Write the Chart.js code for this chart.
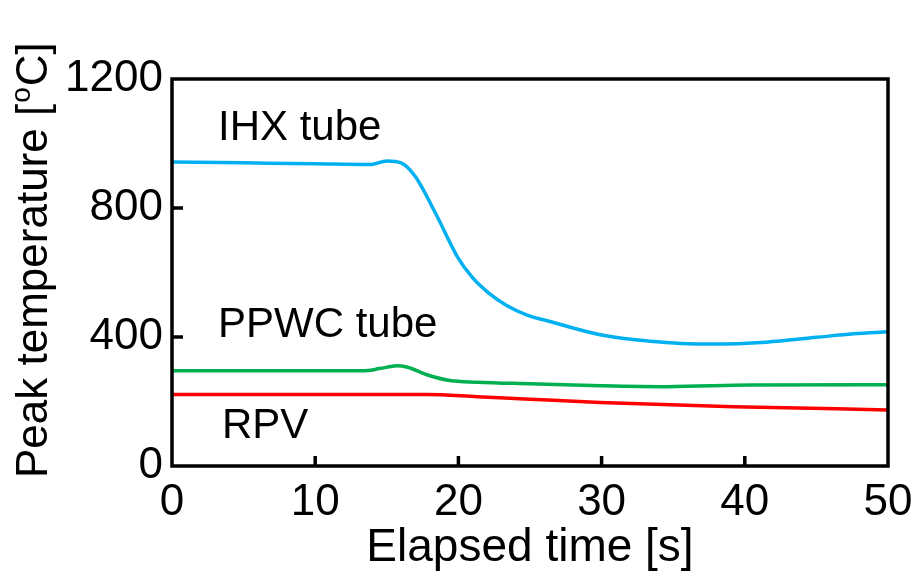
<!DOCTYPE html>
<html>
<head>
<meta charset="utf-8">
<script src="https://cdn.jsdelivr.net/npm/chart.js@4.4.0/dist/chart.umd.min.js"></script>
<style>
  html, body { margin: 0; padding: 0; background: #fff; }
  #wrap { width: 923px; height: 579px; position: relative; }
</style>
</head>
<body>
<div id="wrap"><canvas id="peakChart"></canvas></div>
<script>
// 数据
const ihxTime = [0, 5, 10, 13.9, 15.0, 16.0, 17.0, 18.5, 19.9, 21.0, 22.1, 23.4, 24.8, 26.4, 29.9, 33.4, 37.6, 41.5, 45.0, 47.6, 50];
const ihxTemp = [943, 940, 937, 935, 946, 940, 897, 775, 651, 583, 537, 497, 468, 448, 407, 387, 378, 384, 399, 410, 416];

const ppwcTime = [0, 13.3, 14.5, 15.7, 16.4, 17.8, 19.4, 21.3, 25, 29.9, 34.6, 40.4, 50];
const ppwcTemp = [295, 295, 302, 311, 307, 283, 265, 260, 255, 249, 246, 251, 252];

const rpvTime = [0, 10, 17.8, 21.3, 25, 29.9, 39.2, 50];
const rpvTemp = [222, 222, 222, 215, 207, 197, 184, 174];

const xTicks = [0, 10, 20, 30, 40, 50];
const yTicks = [0, 400, 800, 1200];

const FONT = "'Liberation Sans', Arial, sans-serif";

const toPoints = (xs, ys) => xs.map((x, i) => ({ x: x, y: ys[i] }));

/**
 * 边框、内向刻度、标题和曲线标注
 */
const decorPlugin = {
    id: 'decor',
    afterDraw(chart) {
        const { ctx, chartArea: a, scales } = chart;
        const xs = scales.x, ys = scales.y;
        ctx.save();
        ctx.strokeStyle = '#000';
        ctx.lineWidth = 3.5;
        ctx.strokeRect(a.left, a.top, a.right - a.left, a.bottom - a.top);

        // 内向刻度
        ctx.beginPath();
        xTicks.slice(1, -1).forEach((v) => {
            const px = xs.getPixelForValue(v);
            ctx.moveTo(px, a.bottom);
            ctx.lineTo(px, a.bottom - 10);
        });
        yTicks.slice(1, -1).forEach((v) => {
            const py = ys.getPixelForValue(v);
            ctx.moveTo(a.left, py);
            ctx.lineTo(a.left + 11, py);
        });
        ctx.stroke();

        ctx.fillStyle = '#000';
        ctx.textBaseline = 'alphabetic';

        // 曲线标注
        ctx.font = '42px ' + FONT;
        ctx.textAlign = 'left';
        ctx.fillText('IHX tube', 218, 140);
        ctx.fillText('PPWC tube', 218, 337);
        ctx.fillText('RPV', 222, 438);

        // x 轴标题
        ctx.font = '46px ' + FONT;
        ctx.textAlign = 'center';
        ctx.fillText('Elapsed time [s]', (a.left + a.right) / 2, 561);

        // y 轴标题（带上标）
        ctx.translate(47, 478);
        ctx.rotate(-Math.PI / 2);
        ctx.textAlign = 'left';
        ctx.font = '44px ' + FONT;
        const part1 = 'Peak temperature [';
        ctx.fillText(part1, 0, 0);
        let off = ctx.measureText(part1).width;
        ctx.font = '28px ' + FONT;
        ctx.fillText('o', off + 1, -17);
        off += ctx.measureText('o').width + 2;
        ctx.font = '44px ' + FONT;
        ctx.fillText('C]', off, 0);
        ctx.restore();
    },
};

const lineStyle = (color) => ({
    borderColor: color,
    backgroundColor: color,
    borderWidth: 3.5,
    pointRadius: 0,
    fill: false,
    cubicInterpolationMode: 'monotone',
});

new Chart(document.getElementById('peakChart'), {
    type: 'line',
    data: {
        datasets: [
            { label: 'IHX tube', data: toPoints(ihxTime, ihxTemp), ...lineStyle('#00b0f0') },
            { label: 'PPWC tube', data: toPoints(ppwcTime, ppwcTemp), ...lineStyle('#00b050') },
            { label: 'RPV', data: toPoints(rpvTime, rpvTemp), ...lineStyle('#ff0000') },
        ],
    },
    options: {
        responsive: true,
        maintainAspectRatio: false,
        animation: false,
        layout: { padding: { left: 0, right: 35, top: 79, bottom: 0 } },
        plugins: { legend: { display: false }, tooltip: { enabled: false } },
        scales: {
            x: {
                type: 'linear',
                min: 0,
                max: 50,
                afterFit: (s) => { s.height = 113; },
                afterBuildTicks: (s) => { s.ticks = xTicks.map((v) => ({ value: v })); },
                grid: { display: false, drawTicks: false },
                border: { display: false },
                ticks: {
                    color: '#000', padding: 10, maxRotation: 0,
                    font: { family: FONT, size: 44 },
                    callback: (val) => String(val),
                },
            },
            y: {
                min: 0,
                max: 1200,
                afterFit: (s) => { s.width = 172; },
                afterBuildTicks: (s) => { s.ticks = yTicks.map((v) => ({ value: v })); },
                grid: { display: false, drawTicks: false },
                border: { display: false },
                ticks: {
                    color: '#000', padding: 9,
                    font: { family: FONT, size: 44 },
                    callback: (val) => String(val),
                },
            },
        },
    },
    plugins: [decorPlugin],
});
</script>
</body>
</html>
